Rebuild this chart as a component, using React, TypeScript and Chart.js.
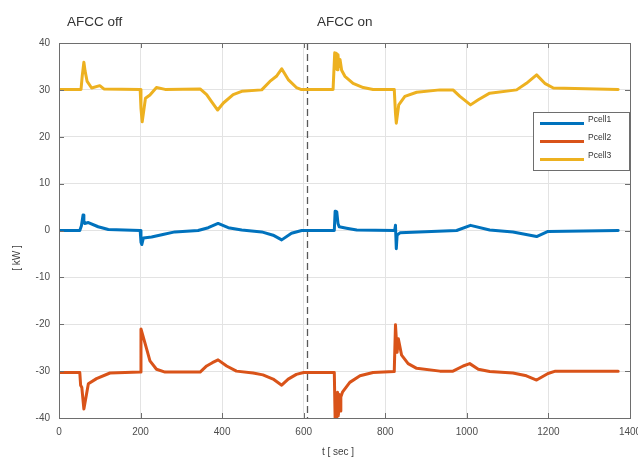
import React, { useEffect, useRef } from 'react';
import { Chart, registerables } from 'chart.js';

Chart.register(...registerables);

const FONT = '"Liberation Sans", Arial, Helvetica, sans-serif';

const seriesNames = ['Pcell1', 'Pcell2', 'Pcell3'];
const seriesColors = ['#0072BD', '#D95319', '#EDB120'];

// Pcell1 [kW] vs t [sec]
const tP1 = [0, 51, 55, 59, 61, 63, 72, 96, 121, 199, 201, 203, 207, 227, 252, 284, 341, 366, 390, 415, 448, 497, 525, 546, 570, 595, 675, 677, 679, 681, 684, 687, 705, 730, 823, 825, 827, 829, 836, 975, 1009, 1056, 1113, 1171, 1199, 1371];
const vP1 = [0, 0, 1, 3.3, 2, 1.5, 1.7, 0.8, 0.2, 0, -2.5, -3.0, -1.6, -1.4, -0.9, -0.3, 0, 0.6, 1.5, 0.6, 0.1, -0.3, -1, -2, -0.6, 0, 0, 4.1, 2.5, 4, 1.5, 0.8, 0.5, 0.1, 0, 1.1, -3.9, -1, -0.5, 0, 1.1, 0.1, -0.3, -1.3, -0.2, 0];

// Pcell2
const tP2 = [0, 51, 53, 56, 61, 72, 92, 125, 199, 201, 215, 223, 239, 260, 346, 362, 376, 390, 411, 435, 476, 500, 525, 546, 562, 582, 600, 675, 677, 679, 681, 683, 685, 687, 689, 691, 695, 713, 738, 770, 822, 825, 829, 832, 840, 856, 877, 934, 966, 991, 1007, 1028, 1056, 1113, 1146, 1171, 1199, 1217, 1371];
const vP2 = [-30.3, -30.3, -33, -33.5, -38.1, -32.7, -31.6, -30.4, -30.2, -21.0, -25.3, -27.8, -29.6, -30.2, -30.2, -28.9, -28.2, -27.6, -28.9, -30, -30.4, -30.8, -31.7, -33, -31.7, -30.7, -30.3, -30.3, -40, -35, -40, -34.5, -39.5, -35, -38.5, -35.5, -34.5, -32.4, -31, -30.3, -30.1, -20.1, -26, -23.1, -26.6, -28.4, -29.4, -30, -30, -28.9, -28.4, -29.6, -30.1, -30.4, -31, -31.9, -30.5, -30, -30];

// Pcell3
const tP3 = [0, 54, 57, 61, 64, 69, 80, 100, 110, 199, 201, 204, 212, 223, 239, 260, 346, 362, 374, 389, 403, 427, 448, 497, 517, 533, 546, 562, 582, 593, 672, 676, 678, 680, 682, 684, 686, 689, 693, 701, 721, 746, 770, 822, 825, 827, 833, 848, 877, 934, 966, 983, 1009, 1028, 1056, 1122, 1146, 1171, 1191, 1212, 1371];
const vP3 = [30.1, 30.1, 33, 35.9, 34, 31.8, 30.4, 30.9, 30.2, 30.1, 26, 23.2, 28.2, 28.9, 30.5, 30.1, 30.2, 29, 27.5, 25.7, 27.2, 29, 29.7, 30, 31.8, 32.9, 34.5, 32.2, 30.5, 30.1, 30.1, 37.9, 34.5, 37.8, 34.3, 37.5, 35, 36.5, 34.2, 32.9, 31.4, 30.5, 30.1, 30.1, 25, 22.9, 26.8, 28.6, 29.5, 30, 30, 28.6, 26.8, 27.9, 29.3, 30, 31.4, 33.2, 31.4, 30.4, 30.1];

const xMin = 0;
const xMax = 1400;
const xStep = 200;
const yMin = -40;
const yMax = 40;
const yStep = 10;
const switchTime = 607;
const phaseLabels = ['AFCC off', 'AFCC on'];
const xTitle = 't [ sec ]';
const yTitle = '[ kW ]';

const decorPlugin = {
  id: 'decor',
  beforeDatasetsDraw(chart: any) {
    const { ctx, chartArea: a, scales } = chart;
    const xs = scales.x;
    ctx.save();
    const sx = Math.round(xs.getPixelForValue(switchTime)) + 0.5;
    ctx.strokeStyle = '#595959';
    ctx.lineWidth = 1.3;
    ctx.setLineDash([7, 4]);
    ctx.beginPath();
    ctx.moveTo(sx, a.top);
    ctx.lineTo(sx, a.bottom);
    ctx.stroke();
    ctx.setLineDash([]);
    ctx.restore();
  },
  afterDraw(chart: any) {
    const { ctx, chartArea: a, scales } = chart;
    const xs = scales.x;
    const ys = scales.y;
    ctx.save();
    ctx.strokeStyle = '#6e6e6e';
    ctx.lineWidth = 1;
    ctx.strokeRect(Math.round(a.left) + 0.5, Math.round(a.top) + 0.5, Math.round(a.right - a.left), Math.round(a.bottom - a.top));
    ctx.beginPath();
    for (let v = xMin; v <= xMax; v += xStep) {
      const px = Math.round(xs.getPixelForValue(v)) + 0.5;
      ctx.moveTo(px, a.bottom); ctx.lineTo(px, a.bottom - 5);
      ctx.moveTo(px, a.top); ctx.lineTo(px, a.top + 5);
    }
    for (let v = yMin; v <= yMax; v += yStep) {
      const py = Math.round(ys.getPixelForValue(v)) + 0.5;
      ctx.moveTo(a.left, py); ctx.lineTo(a.left + 5, py);
      ctx.moveTo(a.right, py); ctx.lineTo(a.right - 5, py);
    }
    ctx.stroke();

    ctx.fillStyle = '#333333';
    ctx.font = `13.5px ${FONT}`;
    ctx.textBaseline = 'middle';
    ctx.textAlign = 'left';
    ctx.fillText(phaseLabels[0], 67, 22);
    ctx.fillText(phaseLabels[1], 317, 22);

    ctx.fillStyle = '#404040';
    ctx.font = `10px ${FONT}`;
    ctx.textAlign = 'center';
    ctx.fillText(xTitle, 338, 452);
    ctx.save();
    ctx.translate(17, 258);
    ctx.rotate(-Math.PI / 2);
    ctx.fillText(yTitle, 0, 0);
    ctx.restore();

    const lx = 533, ly = 112, lw = 96, lh = 58;
    ctx.fillStyle = '#ffffff';
    ctx.fillRect(lx, ly, lw, lh);
    ctx.strokeStyle = '#6e6e6e';
    ctx.lineWidth = 1;
    ctx.strokeRect(lx + 0.5, ly + 0.5, lw, lh);
    ctx.font = `8.5px ${FONT}`;
    ctx.textAlign = 'left';
    chart.data.datasets.forEach((ds: any, i: number) => {
      const yy = ly + 11 + i * 18;
      ctx.strokeStyle = ds.borderColor;
      ctx.lineWidth = 3;
      ctx.beginPath();
      ctx.moveTo(lx + 7, yy + 0.5);
      ctx.lineTo(lx + 51, yy + 0.5);
      ctx.stroke();
      ctx.fillStyle = '#333333';
      ctx.fillText(ds.label, lx + 55, yy - 3);
    });
    ctx.restore();
  },
};

export default function App() {
  const ref = useRef<HTMLCanvasElement>(null);
  useEffect(() => {
    const zip = (t: number[], v: number[]) => t.map((x, i) => ({ x, y: v[i] }));
    const series = [zip(tP1, vP1), zip(tP2, vP2), zip(tP3, vP3)];
    const chart = new Chart(ref.current as HTMLCanvasElement, {
      type: 'line',
      data: {
        datasets: series.map((d, i) => ({
          label: seriesNames[i],
          data: d,
          borderColor: seriesColors[i],
          backgroundColor: seriesColors[i],
          borderWidth: 3,
          borderJoinStyle: 'round',
          borderCapStyle: 'round',
          pointRadius: 0,
          tension: 0,
          fill: false,
        })),
      },
      options: {
        responsive: false,
        animation: false,
        events: [],
        layout: { padding: { left: 0, right: 8, top: 43, bottom: 0 }, autoPadding: false },
        plugins: { legend: { display: false }, tooltip: { enabled: false }, title: { display: false } },
        scales: {
          x: {
            type: 'linear',
            min: xMin,
            max: xMax,
            ticks: { stepSize: xStep, color: '#4d4d4d', font: { family: FONT, size: 10 }, padding: 8, maxRotation: 0, autoSkip: false, callback: (v: any) => String(v) },
            grid: { color: '#e3e3e3', drawTicks: false },
            border: { display: true, color: '#6e6e6e' },
            afterFit: (s: any) => { s.height = 41; s.paddingLeft = 0; s.paddingRight = 0; },
          },
          y: {
            type: 'linear',
            min: yMin,
            max: yMax,
            ticks: { stepSize: yStep, color: '#4d4d4d', font: { family: FONT, size: 10 }, padding: 9, callback: (v: any) => String(v) },
            grid: { color: '#e3e3e3', drawTicks: false },
            border: { display: true, color: '#6e6e6e' },
            afterFit: (s: any) => { s.width = 59; s.paddingTop = 0; s.paddingBottom = 0; },
          },
        },
      },
      plugins: [decorPlugin],
    });
    return () => chart.destroy();
  }, []);
  return (
    <div style={{ position: 'fixed', left: 0, top: 0, width: 638, height: 459, background: '#ffffff' }}>
      <canvas ref={ref} width={638} height={459} style={{ display: 'block' }} />
    </div>
  );
}
